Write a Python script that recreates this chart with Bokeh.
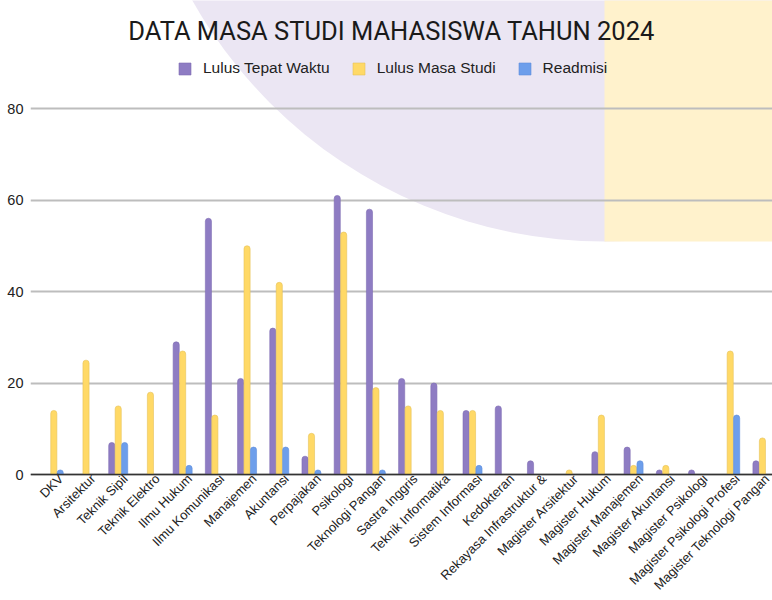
import math
import numpy as np
from bokeh.plotting import figure
from bokeh.models import Range1d, FixedTicker, Span, Legend, LegendItem, Label
from bokeh.embed import file_html
from bokeh.resources import INLINE

# ---------------- data ----------------
title_text = "DATA MASA STUDI MAHASISWA TAHUN 2024"
categories = [
    "DKV", "Arsitektur", "Teknik Sipil", "Teknik Elektro", "Ilmu Hukum",
    "Ilmu Komunikasi", "Manajemen", "Akuntansi", "Perpajakan", "Psikologi",
    "Teknologi Pangan", "Sastra Inggris", "Teknik Informatika", "Sistem Informasi",
    "Kedokteran", "Rekayasa Infrastruktur &", "Magister Arsitektur", "Magister Hukum",
    "Magister Manajemen", "Magister Akuntansi", "Magister Psikologi",
    "Magister Psikologi Profesi", "Magister Teknologi Pangan",
]
series_names = ["Lulus Tepat Waktu", "Lulus Masa Studi", "Readmisi"]
lulus_tepat_waktu = [0, 0, 7, 0, 29, 56, 21, 32, 4, 61, 58, 21, 20, 14, 15, 3, 0, 5, 6, 1, 1, 0, 3]
lulus_masa_studi = [14, 25, 15, 18, 27, 13, 50, 42, 9, 53, 19, 15, 14, 14, 0, 0, 1, 13, 2, 2, 0, 27, 8]
readmisi = [1, 0, 7, 0, 2, 0, 6, 6, 1, 0, 1, 0, 0, 2, 0, 0, 0, 0, 3, 0, 0, 13, 0]
y_ticks = [0, 20, 40, 60, 80]

# ---------------- styling / geometry ----------------
colors = ["#8e7cc3", "#ffd966", "#6d9eeb"]
edge_colors = ["#7f6db3", "#e6c35a", "#5f8fdb"]
FIG_W, FIG_H = 772, 600
BASE_PAGE_Y = 474.0
PX_PER_Y = 366.0 / 80.0
CAT0_PAGE_X = 53.3
PX_PER_CAT = 32.21
FRAME_LEFT_PAGE = 30.0
FRAME_BOTTOM_PAGE = 476.0
LABEL_SHIFT = 0.22


def data_x(page_x):
    return (page_x - CAT0_PAGE_X) / PX_PER_CAT


def data_y(page_y):
    return (BASE_PAGE_Y - page_y) / PX_PER_Y


p = figure(
    width=FIG_W, height=FIG_H, output_backend="svg", toolbar_location=None,
    x_range=Range1d(data_x(FRAME_LEFT_PAGE), data_x(FIG_W)),
    y_range=Range1d(data_y(FRAME_BOTTOM_PAGE), data_y(0)),
    min_border_left=int(FRAME_LEFT_PAGE), min_border_right=0, min_border_top=0, min_border_bottom=0,
)
p.outline_line_color = None
p.background_fill_color = "white"
p.border_fill_color = "white"

# decorative background shapes
bg1 = p.scatter(x=[data_x(604)], y=[data_y(-232)], size=946, marker="circle",
                fill_color="#ebe6f3", line_color=None)
bg2 = p.quad(left=[data_x(604)], right=[data_x(820)], bottom=[data_y(241)], top=[data_y(-20)],
             fill_color="#fff2cc", line_color=None)
bg1.level = "image"
bg2.level = "image"

# bars
idx = np.arange(len(categories))
offsets = [-0.2, 0.0, 0.2]
series = [lulus_tepat_waktu, lulus_masa_studi, readmisi]
renderers = []
for vals, off, c, ec in zip(series, offsets, colors, edge_colors):
    r = p.vbar(x=idx + off, top=vals, bottom=0, width=0.19,
               fill_color=c, line_color=ec, line_width=0.6,
               border_radius=(3, 3, 0, 0))
    renderers.append(r)

# baseline
p.add_layout(Span(location=0, dimension="width", line_color="#333333", line_width=1.5))

# grid
p.xgrid.visible = False
p.ygrid.ticker = FixedTicker(ticks=y_ticks)
p.ygrid.grid_line_color = "#bdbdbd"
p.ygrid.grid_line_width = 2

# y axis
p.yaxis.ticker = FixedTicker(ticks=y_ticks)
p.yaxis.axis_line_color = None
p.yaxis.major_tick_line_color = None
p.yaxis.minor_tick_line_color = None
p.yaxis.major_tick_out = 0
p.yaxis.major_tick_in = 0
p.yaxis.major_label_standoff = 7
p.yaxis.major_label_text_font = "Liberation Sans"
p.yaxis.major_label_text_font_size = "14.5px"
p.yaxis.major_label_text_color = "#222222"

# x axis (labels sit slightly right of the group centre, as in the original)
tick_pos = [float(i) + LABEL_SHIFT for i in range(len(categories))]
p.xaxis.ticker = FixedTicker(ticks=tick_pos)
p.xaxis.major_label_overrides = {t: c for t, c in zip(tick_pos, categories)}
p.xaxis.major_label_orientation = math.pi / 4
p.xaxis.axis_line_color = None
p.xaxis.major_tick_line_color = None
p.xaxis.minor_tick_line_color = None
p.xaxis.major_tick_out = 0
p.xaxis.major_tick_in = 0
p.xaxis.major_label_standoff = 0
p.xaxis.major_label_text_font = "Liberation Sans"
p.xaxis.major_label_text_font_size = "13px"
p.xaxis.major_label_text_color = "#222222"

# title
p.add_layout(Label(x=data_x(391), y=data_y(30.5), text=title_text, text_align="center",
                   text_baseline="alphabetic", text_font="Roboto", text_font_size="25.5px",
                   text_color="#1a1a1a"))

# legend
legend = Legend(
    items=[LegendItem(label=n, renderers=[r]) for n, r in zip(series_names, renderers)],
    orientation="horizontal",
    location=(177 - FRAME_LEFT_PAGE, FRAME_BOTTOM_PAGE - 77),
    glyph_width=15, glyph_height=15, label_standoff=11, spacing=21,
    padding=0, margin=0, border_line_color=None, background_fill_alpha=0,
    label_text_font="Liberation Sans", label_text_font_size="15.5px",
    label_text_color="#222222",
)
p.add_layout(legend)

open("out.html", "w").write(file_html(p, INLINE))
